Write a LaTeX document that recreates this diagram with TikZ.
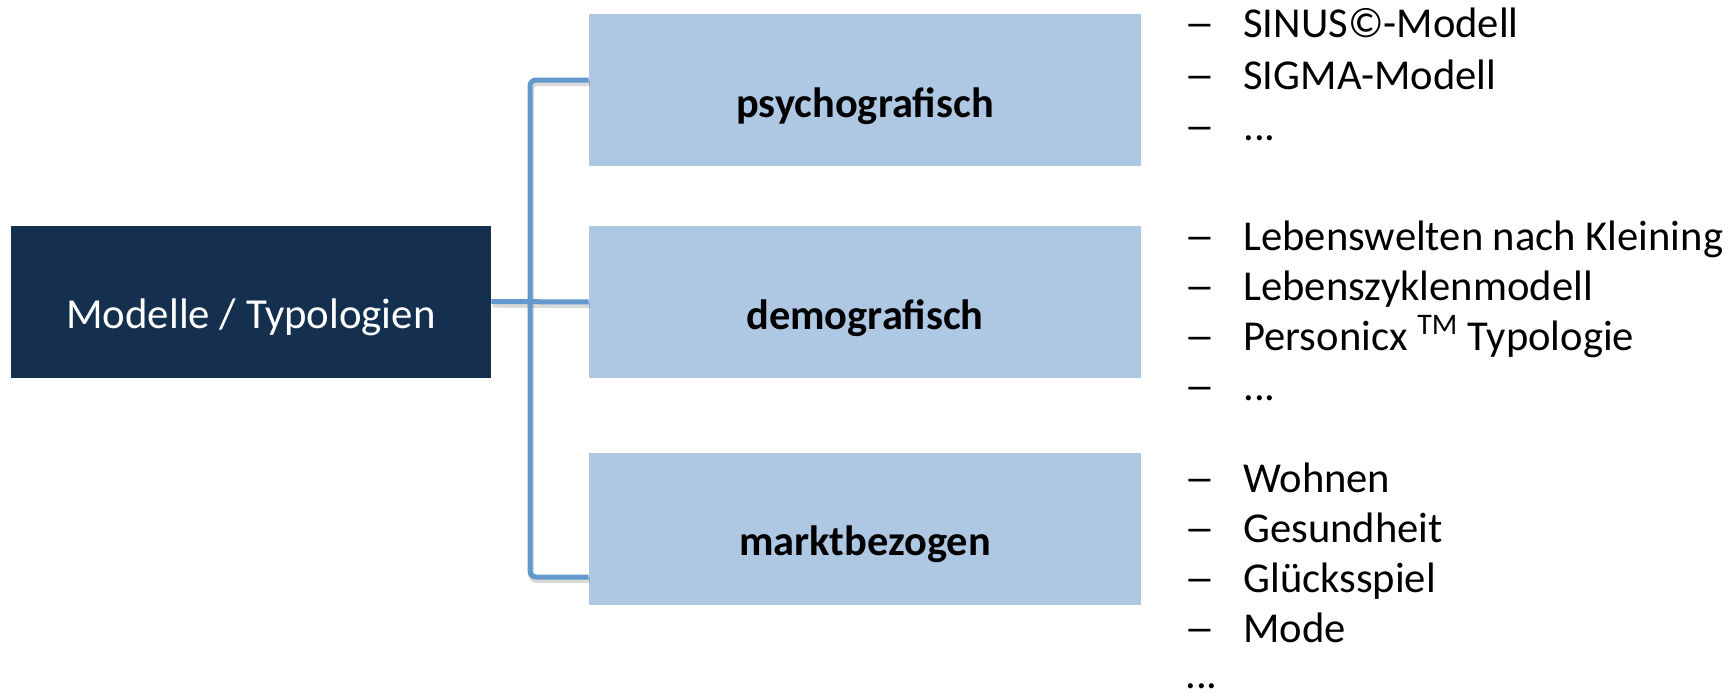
\documentclass[tikz,border=0pt]{standalone}
\usepackage{fontspec}
\usepackage{graphicx}
\setmainfont{Carlito}
\definecolor{darkbox}{RGB}{21,48,79}
\definecolor{lightbox}{RGB}{174,200,228}
\definecolor{connblue}{RGB}{98,152,204}
\newcommand{\mydots}{...}
\begin{document}
\begin{tikzpicture}[x=0.5pt,y=-0.5pt,
  basebox/.style={rectangle, inner sep=0pt, text height=51.5pt, text depth=24.5pt, align=center},
  rootbox/.style={basebox, fill=darkbox, text=white, minimum width=240pt, font=\fontsize{21.4pt}{25pt}\selectfont},
  catbox/.style={basebox, fill=lightbox, text=black, minimum width=276pt, font=\fontsize{21.2pt}{25pt}\selectfont\bfseries},
  conn/.style={draw=connblue, line width=2.5pt, rounded corners=3pt},
  connshadow/.style={draw=black, opacity=0.15, line width=3pt, rounded corners=3pt},
  itemtxt/.style={inner sep=0pt, anchor=base west, font=\fontsize{21.3pt}{25pt}\selectfont},
  dashtxt/.style={itemtxt}
]
\useasboundingbox (0,0) rectangle (1735,696);

% boxes
\node[rootbox] (root) at (251,301.5) {Modelle / Typologien};
\node[catbox] (psy) at (865,90) {psychografisch};
\node[catbox] (demo) at (865,302) {demografisch};
\node[catbox] (markt) at (865,528.5) {marktbezogen};

% connectors
\coordinate (jb) at (530,577);
\begin{scope}[transform canvas={xshift=0.6pt,yshift=-1.6pt}]
  \draw[connshadow] ([yshift=5pt]psy.west) -| (jb) -- ([yshift=-24.25pt]markt.west);
  \draw[connshadow] (root.east) -- (demo.west);
\end{scope}
\draw[conn] ([yshift=5pt]psy.west) -| (jb) -- ([yshift=-24.25pt]markt.west);
\draw[conn] (root.east) -- (demo.west);

% psychografisch list
\foreach \txt/\bl [count=\i] in {SINUS©-Modell/37, SIGMA-Modell/89, \mydots/140} {
  \node[dashtxt] (pd\i) at (1184,\bl) {\scalebox{1.45}[1]{–}};
  \node[itemtxt] (pi\i) at (1243,\bl) {\txt};
}
% demografisch list
\foreach \txt/\bl [count=\i] in {Lebenswelten nach Kleining/250, Lebenszyklenmodell/300, {Personicx \textsuperscript{TM} Typologie}/350, \mydots/400} {
  \node[dashtxt] (dd\i) at (1184,\bl) {\scalebox{1.45}[1]{–}};
  \node[itemtxt] (di\i) at (1243,\bl) {\txt};
}
% marktbezogen list
\foreach \txt/\bl [count=\i] in {Wohnen/492, Gesundheit/542, Glücksspiel/592, Mode/642} {
  \node[dashtxt] (md\i) at (1184,\bl) {\scalebox{1.45}[1]{–}};
  \node[itemtxt] (mi\i) at (1243,\bl) {\txt};
}
\node[itemtxt] (mrest) at (1185,688) {\mydots};
\end{tikzpicture}
\end{document}
